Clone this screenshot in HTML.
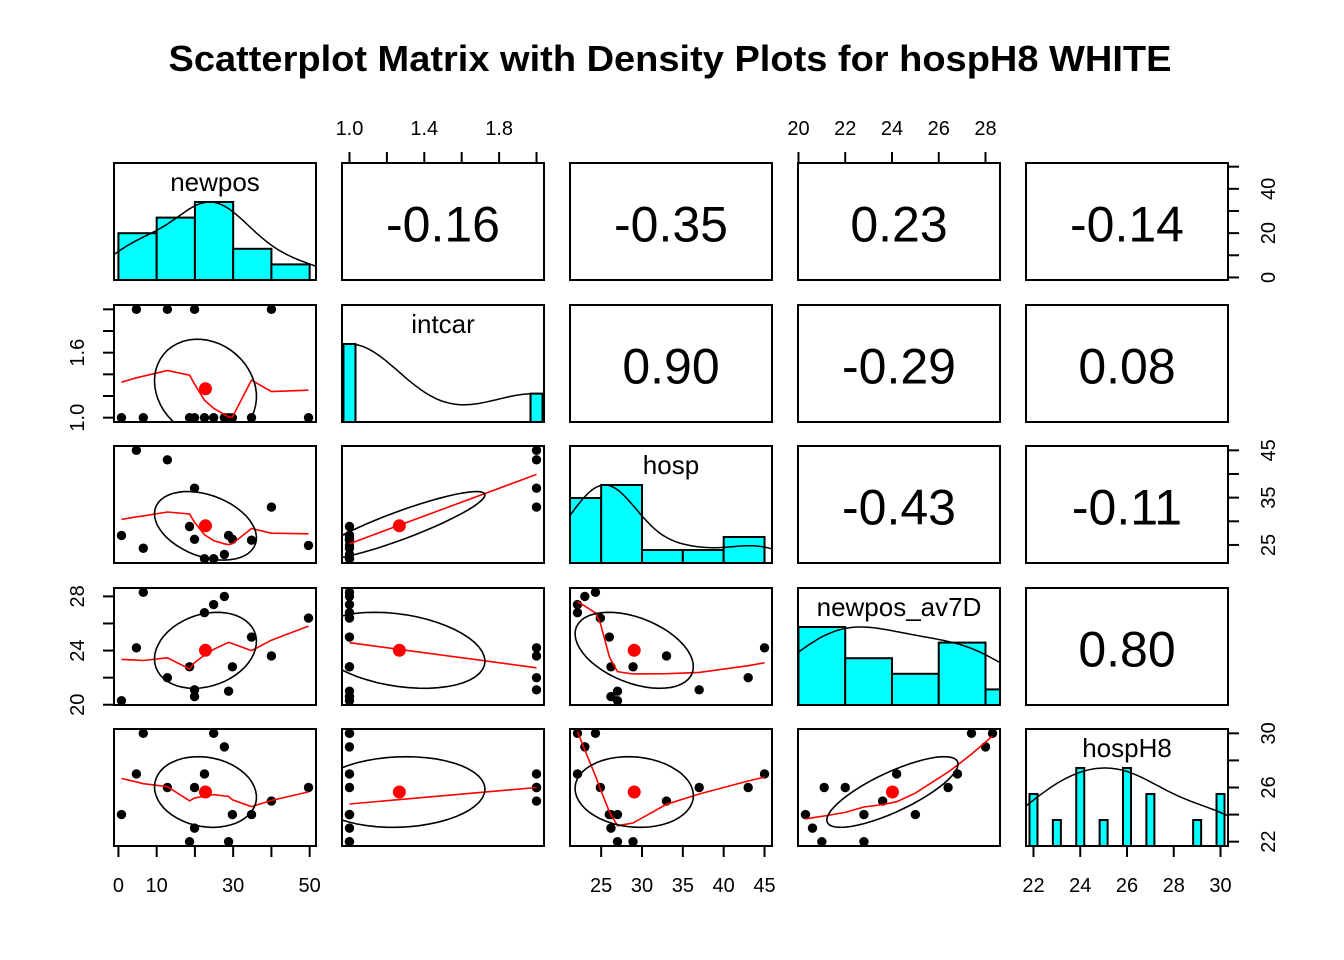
<!DOCTYPE html>
<html><head><meta charset="utf-8"><style>
body{margin:0;background:#fff;}
svg{display:block;font-family:"Liberation Sans",Arial,sans-serif;}
</style></head><body>
<svg id="chart" width="1344" height="960" viewBox="0 0 1344 960" xmlns="http://www.w3.org/2000/svg">
<rect width="1344" height="960" fill="#fff"/>
<text x="670" y="71" text-anchor="middle" font-size="36" font-weight="bold" textLength="1003" lengthAdjust="spacingAndGlyphs">Scatterplot Matrix with Density Plots for hospH8 WHITE</text>
<defs id="defs"></defs>
<g id="plot"></g>
</svg>
<script>
// ---- data (one entry per observation) ----
const varNames = ["newpos","intcar","hosp","newpos_av7D","hospH8"];
const newpos   = [4.7,12.8,19.9,40,0.8,6.5,18.6,19.9,28.8,29.8,34.8,49.7,22.5,24.9,27.7];
const intcar   = [2,2,2,2,1,1,1,1,1,1,1,1,1,1,1];
const hosp     = [45,43,37,33,27,24.3,28.9,26.2,27,26.2,26,24.9,22.1,22.1,23];
const av7D     = [24.2,22.0,21.1,23.6,20.3,28.3,22.8,20.6,21.0,22.8,25.0,26.4,26.8,27.4,28.0];
const hospH8   = [27,26,26,25,24,30,22,23,22,24,24,26,27,30,29];
const corLabels = [["-0.16","-0.35","0.23","-0.14"],["0.90","-0.29","0.08"],["-0.43","-0.11"],["0.80"]];
const histBreaks = [[0,10,20,30,40,50],null,[20,25,30,35,40,45],[20,22,24,26,28,30],null];
// axis ticks / labels
const tNewpos = [0,10,20,30,40,50];
const tIntcar = [1.0,1.2,1.4,1.6,1.8,2.0];
const tHosp = [25,30,35,40,45];
const tAv7D = [20,22,24,26,28];
const tH8 = [22,24,26,28,30];

const data = [newpos,intcar,hosp,av7D,hospH8];
const colL=[114,342,570,798,1026], W=202;
const rowT=[163,305,446,588,729], H=117;
const NS="http://www.w3.org/2000/svg";
const plot=document.getElementById('plot');
const defs=document.getElementById('defs');
function el(tag,attrs,parent){const e=document.createElementNS(NS,tag);for(const k in attrs)e.setAttribute(k,attrs[k]);(parent||plot).appendChild(e);return e;}
const mean=a=>a.reduce((s,v)=>s+v,0)/a.length;
const sd=a=>{const m=mean(a);return Math.sqrt(a.reduce((s,v)=>s+(v-m)*(v-m),0)/(a.length-1));};
function cor(a,b){const ma=mean(a),mb=mean(b);let s=0,sa=0,sb=0;for(let i=0;i<a.length;i++){s+=(a[i]-ma)*(b[i]-mb);sa+=(a[i]-ma)**2;sb+=(b[i]-mb)**2;}return s/Math.sqrt(sa*sb);}
const usr=data.map(a=>{const mn=Math.min(...a),mx=Math.max(...a),r=mx-mn;return [mn-0.04*r,mx+0.04*r];});
const sx=(k,c)=>v=>colL[c]+(v-usr[k][0])/(usr[k][1]-usr[k][0])*W;
const sy=(k,r)=>v=>rowT[r]+H-(v-usr[k][0])/(usr[k][1]-usr[k][0])*H;

function lowess(x,y,f,iter){
  const n=x.length;const idx=x.map((v,i)=>i).sort((a,b)=>x[a]-x[b]);
  const X=idx.map(i=>x[i]),Y=idx.map(i=>y[i]);
  const ns=Math.max(Math.min(Math.floor(f*n+1e-7),n),2);
  let rw=new Array(n).fill(1),ys=new Array(n).fill(0);
  const range=X[n-1]-X[0];
  for(let it=0;it<=iter;it++){
    let nleft=0,nright=ns-1;
    for(let i=0;i<n;i++){
      while(nright<n-1 && X[i]-X[nleft]>X[nright+1]-X[i]){nleft++;nright++;}
      const xs=X[i];const h=Math.max(xs-X[nleft],X[nright]-xs);const h9=0.999*h,h1=0.001*h;
      const w=new Array(n).fill(0);let a=0,j=nleft;
      for(;j<n;j++){const r=Math.abs(X[j]-xs);if(r<=h9){w[j]=(r<=h1?1:Math.pow(1-Math.pow(r/h,3),3))*rw[j];a+=w[j];}else if(X[j]>xs)break;}
      const nrt=j-1;
      if(a<=0){ys[i]=Y[i];continue;}
      for(let k=nleft;k<=nrt;k++)w[k]/=a;
      if(h>0){let b=0;for(let k=nleft;k<=nrt;k++)b+=w[k]*X[k];let c=0;for(let k=nleft;k<=nrt;k++)c+=w[k]*(X[k]-b)**2;
        if(Math.sqrt(c)>0.001*range){const bb=xs-b;for(let k=nleft;k<=nrt;k++)w[k]*=(bb*(X[k]-b)/c+1);}}
      let s=0;for(let k=nleft;k<=nrt;k++)s+=w[k]*Y[k];ys[i]=s;
    }
    if(it===iter)break;
    const res=Y.map((v,i)=>v-ys[i]);const ar=res.map(Math.abs).sort((a,b)=>a-b);
    const m=n%2?ar[(n-1)/2]:(ar[n/2-1]+ar[n/2])/2;const cmad=6*m;
    if(cmad<1e-7*mean(Y.map(Math.abs)))break;
    rw=res.map(r=>{const u=Math.abs(r)/cmad;return u<1?(1-u*u)**2:0;});
  }
  return {x:X,y:ys};
}
function quant(a,p){const s=[...a].sort((x,y)=>x-y);const h=(s.length-1)*p;const l=Math.floor(h);return s[l]+(h-l)*((s[Math.min(l+1,s.length-1)])-s[l]);}

for(let r=0;r<5;r++)for(let c=0;c<5;c++){const cp=el('clipPath',{id:`clip${r}${c}`},defs);el('rect',{x:colL[c],y:rowT[r],width:W,height:H},cp);}

for(let r=0;r<5;r++){
  for(let c=0;c<5;c++){
    const g=el('g',{});
    
    
    const inner=el('g',{'clip-path':`url(#clip${r}${c})`},g);
    if(r===c){
      const k=r,a=data[k],X=sx(k,c);const yb=rowT[r]+H;
      const hy=v=>yb-v/1.5*H;
      const br=histBreaks[k];
      if(br){
        const counts=br.slice(1).map((b,i)=>a.filter(v=>(i===0?v>=br[0]:v>br[i])&&v<=b).length);
        const mx=Math.max(...counts);
        counts.forEach((n,i)=>{const x0=X(br[i]),x1=X(br[i+1]);
          const b=el('rect',{x:x0,y:hy(n/mx),width:x1-x0,height:yb-hy(n/mx),fill:'#00ffff',stroke:'#000','stroke-width':2},inner);
          
          });
      } else {
        const vals=[...new Set(a)].sort((p,q)=>p-q);const counts=vals.map(v=>a.filter(u=>u===v).length);const mx=Math.max(...counts);
        const hw=k===1?6:4;
        vals.forEach((v,i)=>{const b=el('rect',{x:X(v)-hw,y:hy(counts[i]/mx),width:2*hw,height:yb-hy(counts[i]/mx),fill:'#00ffff',stroke:'#000','stroke-width':2},inner);
          
          });
      }
      const n=a.length,s=sd(a),iqr=quant(a,0.75)-quant(a,0.25);
      const bw=1.2*1.06*Math.min(s,iqr/1.34)*Math.pow(n,-0.2);
      const lo=Math.min(...a)-3*bw,hi=Math.max(...a)+3*bw;const pts=[];
      for(let t=0;t<=200;t++){const x=lo+(hi-lo)*t/200;let d=0;for(const v of a)d+=Math.exp(-0.5*((x-v)/bw)**2);pts.push([x,d]);}
      const dm=Math.max(...pts.map(p=>p[1]));
      const dl=el('polyline',{points:pts.map(p=>`${X(p[0]).toFixed(1)},${hy(p[1]/dm).toFixed(1)}`).join(' '),fill:'none',stroke:'#000','stroke-width':1.5},inner);
      
      
      const lab=el('text',{x:colL[c]+W/2,y:rowT[r]+28,'text-anchor':'middle','font-size':26},g);
      lab.textContent=varNames[k];
      
      
    } else if(r<c){
      const t=el('text',{x:colL[c]+W/2,y:rowT[r]+H/2+20,'text-anchor':'middle','font-size':50},g);
      t.textContent=corLabels[r][c-r-1];
      
      
    } else {
      const xa=data[c],ya=data[r],X=sx(c,c),Y=sy(r,r);
      xa.forEach((v,i)=>{const p=el('circle',{cx:X(v),cy:Y(ya[i]),r:4.7,fill:'#000'},inner);
        
        });
      const lw=lowess(xa,ya,2/3,3);
      const ln=el('polyline',{points:lw.x.map((v,i)=>`${X(v).toFixed(1)},${Y(lw.y[i]).toFixed(1)}`).join(' '),fill:'none',stroke:'#ff0000','stroke-width':1.6},inner);
      
      
      const mx=mean(xa),my=mean(ya),xs=sd(xa),ys=sd(ya),rr=cor(xa,ya);
      const th=(Math.abs(rr)>0?Math.sign(rr):1)/Math.SQRT2;
      const a1=Math.sqrt(1+rr),a2=Math.sqrt(1-rr);const ep=[];
      for(let t=0;t<=51;t++){const an=t*2*Math.PI/51,cx=Math.cos(an),cy=Math.sin(an);
        const ex=cx*a1*th+cy*a2*(-th),ey=cx*a1*th+cy*a2*th;
        ep.push(`${X(ex*xs+mx).toFixed(1)},${Y(ey*ys+my).toFixed(1)}`);}
      const e=el('polyline',{points:ep.join(' '),fill:'none',stroke:'#000','stroke-width':1.6},inner);
      
      
      const md=el('circle',{cx:X(mx),cy:Y(my),r:6.5,fill:'#ff0000'},inner);
      
      
    }
    const fr=el('rect',{x:colL[c],y:rowT[r],width:W,height:H,fill:'none',stroke:'#000','stroke-width':2},g);
    
    
  }
}

function axis(side,idx,k,ticks,labels){
  const g=el('g',{});
  
  
  ticks.forEach(t=>{
    const lab=labels.includes(t);
    if(side==='top'||side==='bottom'){
      const x=sx(k,idx)(t);const y0=side==='top'?rowT[0]:rowT[4]+H;const d=side==='top'?-11:11;
      el('line',{x1:x,x2:x,y1:y0,y2:y0+d,stroke:'#000','stroke-width':2},g);
      if(lab){const tx=el('text',{x:x,y:side==='top'?135:892,'text-anchor':'middle','font-size':20},g);
        tx.textContent=(k===1?t.toFixed(1):String(t));
        
        }
    } else {
      const y=sy(k,idx)(t);const x0=side==='left'?colL[0]:colL[4]+W;const d=side==='left'?-11:11;
      el('line',{x1:x0,x2:x0+d,y1:y,y2:y,stroke:'#000','stroke-width':2},g);
      if(lab){const lx=side==='left'?84:1275;
        const tx=el('text',{x:lx,y:y,'text-anchor':'middle','font-size':20,transform:`rotate(-90 ${lx} ${y})`},g);
        tx.textContent=(k===1?t.toFixed(1):String(t));
        
        }
    }
  });
}
axis('top',1,1,tIntcar,[1.0,1.4,1.8]);
axis('top',3,3,tAv7D,tAv7D);
axis('bottom',0,0,tNewpos,[0,10,30,50]);
axis('bottom',2,2,tHosp,tHosp);
axis('bottom',4,4,tH8,tH8);
axis('left',1,1,tIntcar,[1.0,1.6]);
axis('left',3,3,tAv7D,[20,24,28]);
axis('right',0,0,tNewpos,[0,20,40]);
axis('right',2,2,tHosp,[25,35,45]);
axis('right',4,4,tH8,[22,26,30]);
</script>
</body></html>
